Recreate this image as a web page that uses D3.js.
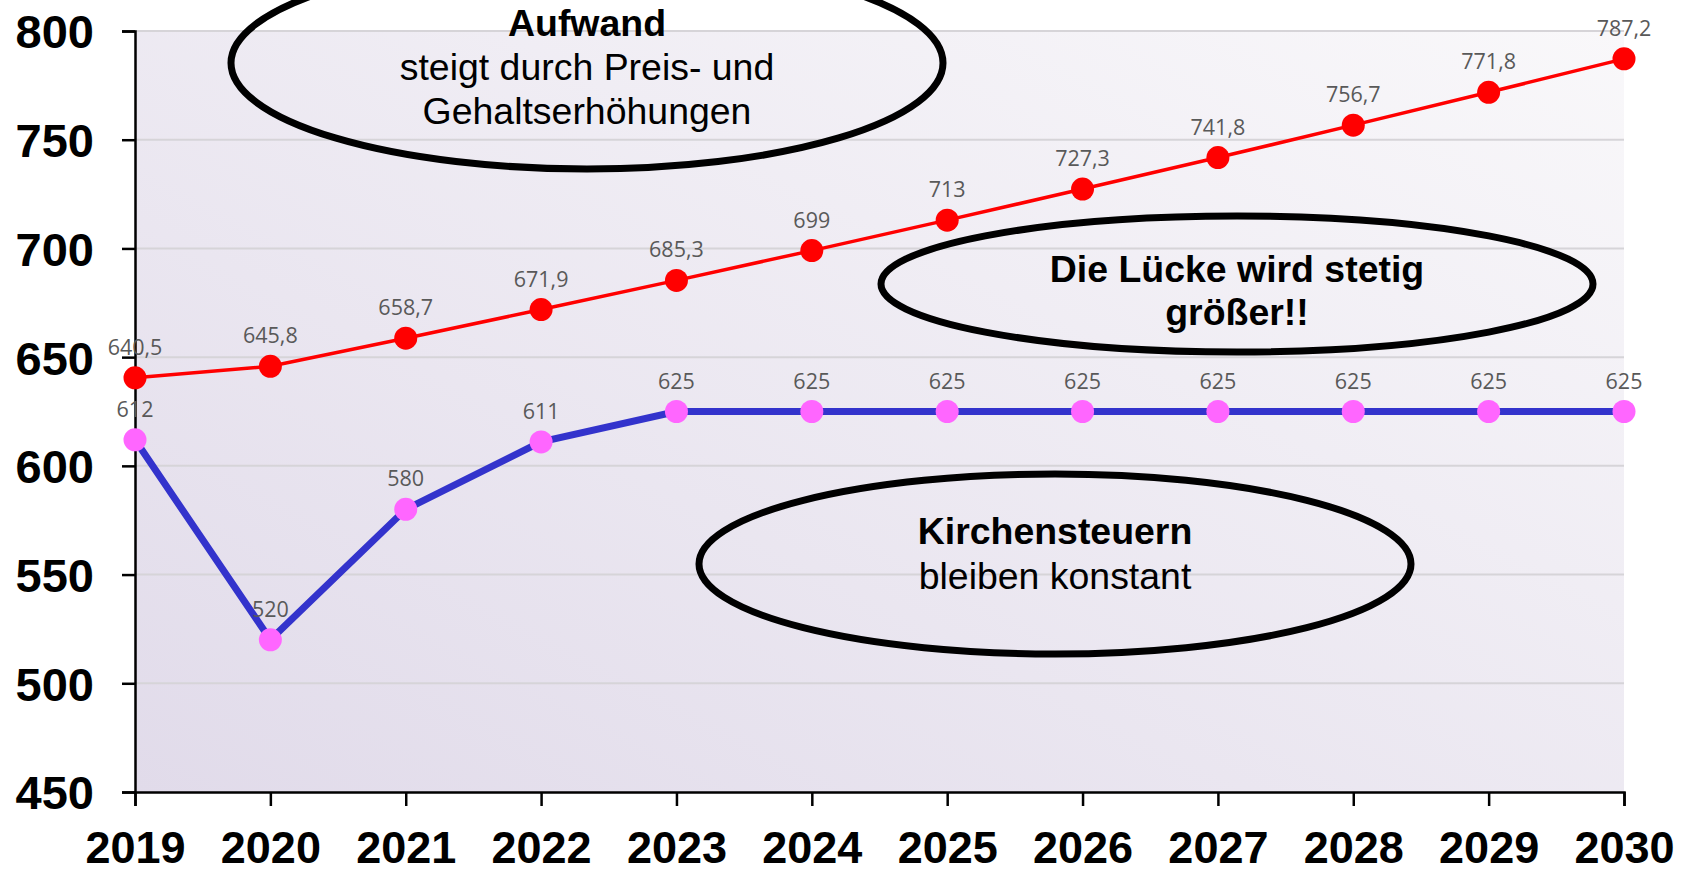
<!DOCTYPE html>
<html>
<head>
<meta charset="utf-8">
<script src="https://cdn.jsdelivr.net/npm/d3@7"></script>
<style>
  body { margin: 0; background: #fff; }
  svg { display: block; }
</style>
</head>
<body>
<div id="chart"></div>
<script>
// Aufwand vs Kirchensteuern 2019-2030

var years = [2019, 2020, 2021, 2022, 2023, 2024, 2025, 2026, 2027, 2028, 2029, 2030];
var aufwand = [640.5, 645.8, 658.7, 671.9, 685.3, 699, 713, 727.3, 741.8, 756.7, 771.8, 787.2];
var kirchensteuern = [612, 520, 580, 611, 625, 625, 625, 625, 625, 625, 625, 625];
var yTicks = [450, 500, 550, 600, 650, 700, 750, 800];

// callouts: text lines, first line bold or not
var notes = [
  { lines: [["Aufwand", true], ["steigt durch Preis- und", false], ["Gehaltserhöhungen", false]] },
  { lines: [["Die Lücke wird stetig", true], ["größer!!", true]] },
  { lines: [["Kirchensteuern", true], ["bleiben konstant", false]] }
];

var width = 1694,
    height = 870;

// plot box (careful: "top" is taken by window.top)
var plotL = 135, plotR = 1624, plotT = 31, plotB = 792;

var svg = d3.select("#chart").append("svg")
    .attr("width", width)
    .attr("height", height);

var x = d3.scalePoint()
    .domain(years)
    .range([plotL, plotR]);

var y = d3.scaleLinear()
    .domain([450, 800])
    .range([plotB, plotT]);

// background gradient of the plot area
var defs = svg.append("defs");
var grad = defs.append("linearGradient")
    .attr("id", "bg")
    .attr("x1", "0%").attr("y1", "100%")
    .attr("x2", "100%").attr("y2", "0%");
grad.append("stop").attr("offset", "0%").attr("stop-color", "#e1dbea");
grad.append("stop").attr("offset", "100%").attr("stop-color", "#f9f8fa");

svg.append("rect")
    .attr("x", plotL)
    .attr("y", plotT)
    .attr("width", plotR - plotL)
    .attr("height", plotB - plotT)
    .attr("fill", "url(#bg)");

// gridlines
svg.selectAll(".grid")
    .data(yTicks.slice(1))
    .enter().append("line")
    .attr("class", "grid")
    .attr("x1", plotL)
    .attr("x2", plotR)
    .attr("y1", function(d) { return y(d); })
    .attr("y2", function(d) { return y(d); })
    .style("stroke", "#d6d4d8")
    .style("stroke-width", 2);

// axes
var yAxis = d3.axisLeft(y).tickValues(yTicks).tickSize(13).tickPadding(28);
var gy = svg.append("g")
    .attr("transform", "translate(" + plotL + ",0)")
    .call(yAxis);
gy.select(".domain").style("stroke", "#000").style("stroke-width", 2.5);
gy.selectAll(".tick line").style("stroke", "#000").style("stroke-width", 2.5);
gy.selectAll(".tick text")
    .style("font-family", "'Liberation Sans', Arial, sans-serif")
    .style("font-weight", "bold")
    .style("font-size", "47px")
    .attr("dy", "0.36em")
    .attr("fill", "#000");

var xAxis = d3.axisBottom(x).tickSize(14).tickPadding(8);
var gx = svg.append("g")
    .attr("transform", "translate(0," + plotB + ")")
    .call(xAxis);
gx.select(".domain").style("stroke", "#000").style("stroke-width", 2.5);
gx.selectAll(".tick line").style("stroke", "#000").style("stroke-width", 2.5);
gx.selectAll(".tick text")
    .attr("y", 71)
    .attr("dy", 0)
    .style("font-family", "'Liberation Sans', Arial, sans-serif")
    .style("font-weight", "bold")
    .style("font-size", "45px")
    .attr("fill", "#000");

// lines
var line = d3.line()
    .x(function(d, i) { return x(years[i]); })
    .y(function(d) { return y(d); });

svg.append("path")
    .datum(aufwand)
    .attr("d", line)
    .attr("fill", "none")
    .style("stroke", "#ff0000")
    .style("stroke-width", 3.5);

svg.append("path")
    .datum(kirchensteuern)
    .attr("d", line)
    .attr("fill", "none")
    .style("stroke", "#3333cc")
    .style("stroke-width", 7);

// markers + value labels
function drawPoints(data, cls, color) {
  svg.selectAll("." + cls)
    .data(data)
    .enter().append("circle")
    .attr("class", cls)
    .attr("cx", function(d, i) { return x(years[i]); })
    .attr("cy", function(d) { return y(d); })
    .attr("r", 11.5)
    .attr("fill", color);

  svg.selectAll("." + cls + "-lbl")
    .data(data)
    .enter().append("text")
    .attr("class", cls + "-lbl")
    .attr("x", function(d, i) { return x(years[i]); })
    .attr("y", function(d) { return y(d) - 23; })
    .attr("text-anchor", "middle")
    .style("font-family", "'Open Sans', sans-serif")
    .style("font-size", "21.5px")
    .attr("fill", "#595959")
    .text(function(d) { return String(d).replace(".", ","); });
}

drawPoints(aufwand, "auf", "#ff0000");
drawPoints(kirchensteuern, "kst", "#ff66ff");

// callout ellipses
var ellipses = [
  { cx: 587, cy: 63, rx: 356, ry: 106, ty: [36, 80, 124] },
  { cx: 1237, cy: 284, rx: 356, ry: 68, ty: [282, 325] },
  { cx: 1055, cy: 564, rx: 356, ry: 90, ty: [544, 589] }
];

notes.forEach(function(n, k) {
  var e = ellipses[k];
  svg.append("ellipse")
    .attr("cx", e.cx)
    .attr("cy", e.cy)
    .attr("rx", e.rx)
    .attr("ry", e.ry)
    .attr("fill", "none")
    .style("stroke", "#000")
    .style("stroke-width", 7);

  // text in the original is a bit wider than Arial, stretch it slightly
  n.lines.forEach(function(l, j) {
    svg.append("text")
      .attr("transform", "translate(" + e.cx + "," + e.ty[j] + ") scale(1.04,1)")
      .attr("text-anchor", "middle")
      .style("font-family", "'Liberation Sans', Arial, sans-serif")
      .style("font-size", "36px")
      .style("font-weight", l[1] ? "bold" : "normal")
      .attr("fill", "#000")
      .text(l[0]);
  });
});
</script>
</body>
</html>
